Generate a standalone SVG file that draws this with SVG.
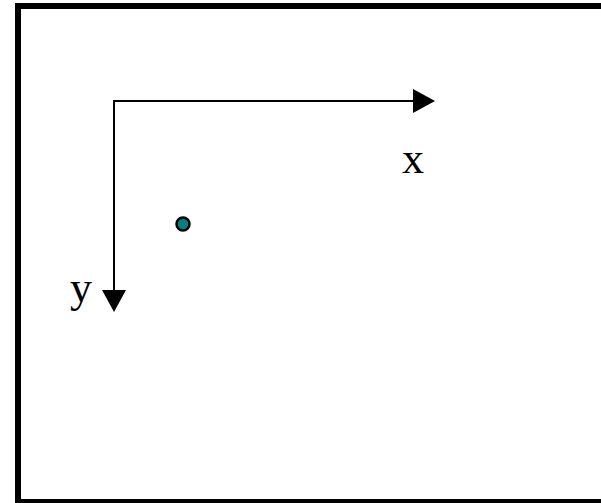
<svg xmlns="http://www.w3.org/2000/svg" width="601" height="503" viewBox="0 0 601 503">
<style>
.axis{stroke:#000;stroke-width:2;fill:none}
.lbl{font-family:"Liberation Serif","Times New Roman",serif;font-size:44px;fill:#000}
</style>
<defs>
<marker id="ah" markerWidth="22" markerHeight="24" refX="0" refY="12" orient="auto" markerUnits="userSpaceOnUse">
<path d="M0,0 L22,12 L0,24 Z" fill="#000"/>
</marker>
</defs>
<rect width="601" height="503" fill="#fff"/>
<rect id="frame" x="18" y="6" width="600" height="496" fill="none" stroke="#000" stroke-width="6"/>
<g id="connectors">
<line class="axis" x1="114" y1="101" x2="413" y2="101" marker-end="url(#ah)"/>
<line class="axis" x1="114" y1="100" x2="114" y2="290" marker-end="url(#ah)"/>
</g>
<g id="point">
<circle cx="183" cy="224" r="6.5" fill="#008080" stroke="#000" stroke-width="2.5"/>
</g>
<g id="label-x"><text class="lbl" x="402" y="173">x</text></g>
<g id="label-y"><text class="lbl" x="70" y="302">y</text></g>
</svg>
